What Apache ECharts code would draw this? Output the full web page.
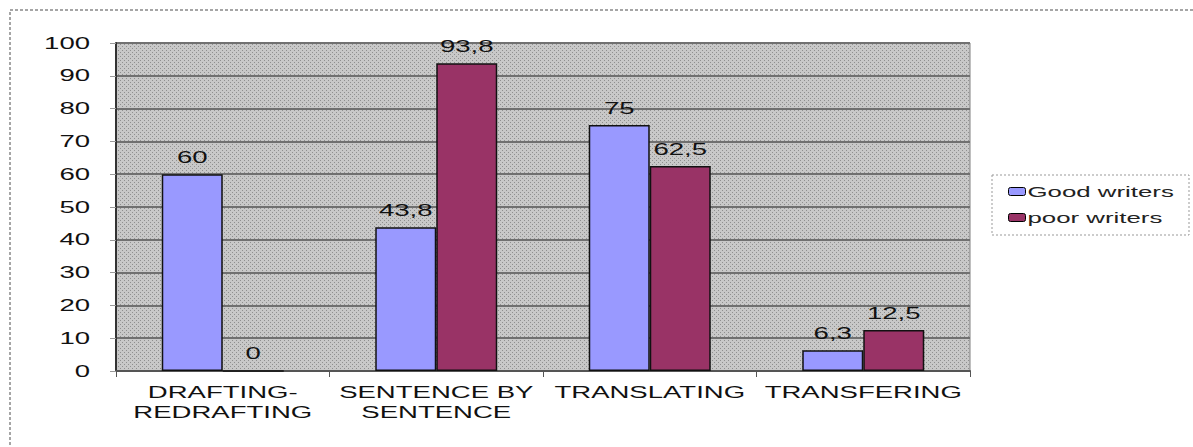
<!DOCTYPE html>
<html><head><meta charset="utf-8">
<script src="https://cdn.jsdelivr.net/npm/echarts@6/dist/echarts.min.js"></script>
<style>html,body{margin:0;padding:0;background:#fff}#c{width:1193px;height:447px}</style>
</head><body><div id="c"></div>
<script>
const categories = ['DRAFTING-\nREDRAFTING', 'SENTENCE BY\nSENTENCE', 'TRANSLATING', 'TRANSFERING'];
const goodWriters = [60, 43.8, 75, 6.3];
const poorWriters = [0, 93.8, 62.5, 12.5];
const seriesNames = ['Good writers', 'poor writers'];

// dotted pattern for plot background
const pc = document.createElement('canvas');
pc.width = 4; pc.height = 4;
const px = pc.getContext('2d');
px.fillStyle = '#c8c8c8'; px.fillRect(0,0,4,4);
px.fillStyle = '#8f8f8f'; px.fillRect(0,0,1,1); px.fillRect(2,2,1,1);
const patUrl = pc.toDataURL();

const STRETCH = 1.72;
const chart = echarts.init(document.getElementById('c'), null, {renderer:'svg'});
const fontFam = 'Liberation Sans, Arial, sans-serif';
const lbl = {show:true, position:'top', color:'#111', fontSize:16, fontFamily:fontFam, distance:9,
  formatter: p => String(p.value).replace('.', ',')};
chart.setOption({
  animation:false,
  graphic:[
    {type:'rect', shape:{x:10,y:10,width:1250,height:500}, style:{fill:'none', stroke:'#888', lineWidth:1.5, lineDash:[3,2]}, z:-1},
    {type:'rect', shape:{x:992,y:175,width:197,height:60}, style:{fill:'#fff', stroke:'#999', lineWidth:1, lineDash:[2,2]}, z:-1}
  ],
  grid:{left:116, right:223, top:43, bottom:76, show:true, backgroundColor:{image:patUrl, repeat:'repeat'}, borderColor:'#808080', borderWidth:1},
  legend:{orient:'vertical', left:1008, top:184, itemWidth:17, itemHeight:8, itemGap:11,
    padding:0, borderWidth:0,
    textStyle:{fontSize:15, fontFamily:fontFam, color:'#222', padding:[0,0,0,-3]},
    data:seriesNames.map(n=>({name:n, itemStyle:{borderColor:'#000', borderWidth:1}}))},
  xAxis:{type:'category', data:categories,
    axisLine:{lineStyle:{color:'#555', width:2}},
    axisTick:{show:true, length:6, lineStyle:{color:'#555'}},
    axisLabel:{color:'#111', fontSize:16, fontFamily:fontFam, margin:11, lineHeight:20, interval:0},
    splitLine:{show:false}},
  yAxis:{type:'value', min:0, max:100, interval:10,
    axisLine:{show:true, lineStyle:{color:'#333', width:2}},
    axisTick:{show:true, length:6, lineStyle:{color:'#999'}},
    axisLabel:{color:'#111', fontSize:16, fontFamily:fontFam, margin:26},
    splitLine:{lineStyle:{color:'#707070', width:2}}},
  series:[
    {name:seriesNames[0], type:'bar', data:goodWriters, barWidth:61, barGap:'0%',
     itemStyle:{color:'#9999ff', borderColor:'#111', borderWidth:1.5}, label:lbl},
    {name:seriesNames[1], type:'bar', data:poorWriters, barWidth:61, barGap:'0%',
     itemStyle:{color:'#993366', borderColor:'#111', borderWidth:1.5}, label:lbl}
  ]
});
function stretchText(){
  document.querySelectorAll('#c text').forEach(t => {
    if (t.getAttribute('data-st')) return;
    const len = t.getComputedTextLength();
    if (!len) return;
    t.setAttribute('textLength', (len*STRETCH).toFixed(1));
    t.setAttribute('lengthAdjust', 'spacingAndGlyphs');
    t.setAttribute('data-st', '1');
  });
}
chart.on('finished', stretchText);
setTimeout(stretchText, 50);
</script></body></html>
